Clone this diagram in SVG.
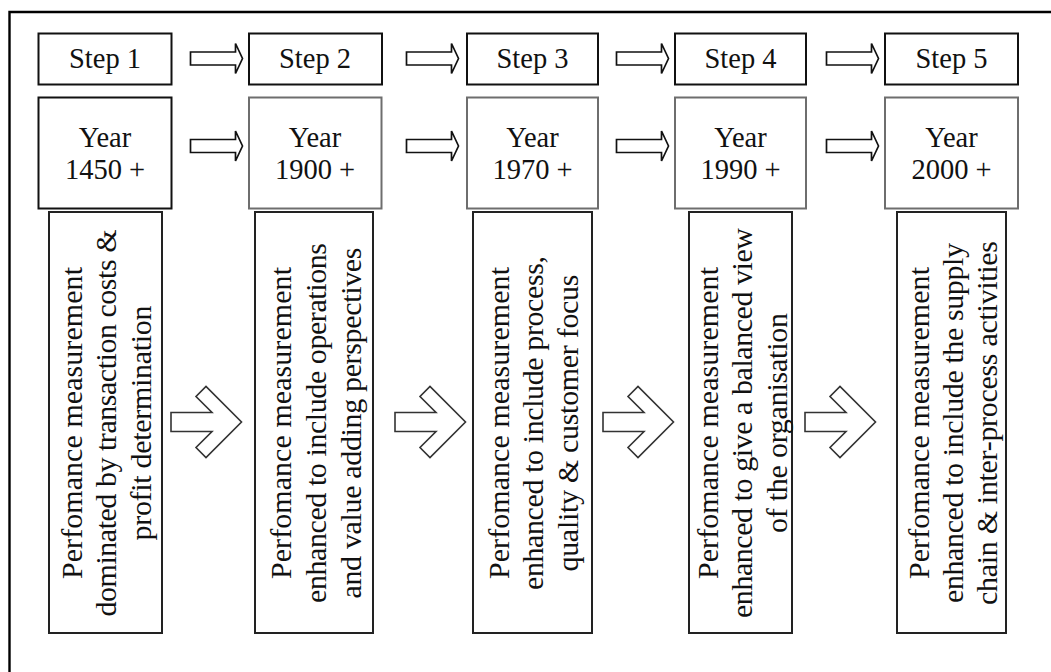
<svg xmlns="http://www.w3.org/2000/svg" xmlns:xlink="http://www.w3.org/1999/xlink" width="1051" height="672" viewBox="0 0 1051 672">
  <style>
    .frame { stroke: #000; stroke-width: 2.4; fill: none; }
    .step { fill: #fff; stroke: #111; stroke-width: 2; }
    .year { fill: #fff; stroke: #111; stroke-width: 2; }
    .year.soft { stroke: #6e6e6e; }
    .stage { fill: #fff; stroke: #222; stroke-width: 2; }
    .lbl { font-family: "Liberation Serif", "Times New Roman", serif; font-size: 28.5px; fill: #111; text-anchor: middle; }
    .vt { font-family: "Liberation Serif", "Times New Roman", serif; font-size: 30px; fill: #111; text-anchor: middle; }
    .small-arrow { fill: #fff; stroke: #111; stroke-width: 1.7; stroke-linejoin: miter; }
    .big-arrow { fill: #fff; stroke: #333; stroke-width: 1.6; stroke-linejoin: miter; }
  </style>
  <defs>
    <!-- hollow double-line style arrow, origin at shaft start on the centre line -->
    <path id="thin-arrow" d="M0,-6.5 H45 V-15 L52,0 L45,15 V6.5 H0 Z"/>
    <!-- block arrow with chevron head, origin at shaft start on the centre line -->
    <path id="chevron-arrow" d="M0,-9.5 H41 L25,-25.5 L35,-35.5 L70.5,0 L35,35.5 L25,25.5 L41,9.5 H0 Z"/>
  </defs>

  <rect width="1051" height="672" fill="#fff"/>

  <!-- outer frame (top and left edges) -->
  <path class="frame" d="M9.5,672 V12 H1051"/>

  <!-- column 1 -->
  <g id="step1">
    <rect class="step" x="38.5" y="33.5" width="133" height="51"/>
    <text class="lbl" x="105" y="67.5">Step 1</text>
  </g>
  <g id="year1">
    <rect class="year" x="38.5" y="97.5" width="133" height="111"/>
    <text class="lbl" x="105" y="146.5">Year</text>
    <text class="lbl" x="105" y="178.5">1450 +</text>
  </g>
  <g id="stage1">
    <rect class="stage" x="49" y="212" width="113" height="421"/>
    <text class="vt" transform="translate(81.5,423) rotate(-90)" textLength="312" lengthAdjust="spacing">Perfomance measurement</text>
    <text class="vt" transform="translate(116,423) rotate(-90)" textLength="387" lengthAdjust="spacing">dominated by transaction costs &amp;</text>
    <text class="vt" transform="translate(150.5,423) rotate(-90)" textLength="235" lengthAdjust="spacing">profit determination</text>
  </g>

  <!-- column 2 -->
  <g id="step2">
    <rect class="step" x="249" y="33.5" width="133" height="51"/>
    <text class="lbl" x="315" y="67.5">Step 2</text>
  </g>
  <g id="year2">
    <rect class="year soft" x="249" y="97.5" width="132.5" height="111"/>
    <text class="lbl" x="315" y="146.5">Year</text>
    <text class="lbl" x="315" y="178.5">1900 +</text>
  </g>
  <g id="stage2">
    <rect class="stage" x="255" y="212" width="118" height="421"/>
    <text class="vt" transform="translate(290.5,423) rotate(-90)" textLength="312" lengthAdjust="spacing">Perfomance measurement</text>
    <text class="vt" transform="translate(326,423) rotate(-90)" textLength="360" lengthAdjust="spacing">enhanced to include operations</text>
    <text class="vt" transform="translate(360.5,423) rotate(-90)" textLength="351" lengthAdjust="spacing">and value adding perspectives</text>
  </g>

  <!-- column 3 -->
  <g id="step3">
    <rect class="step" x="467" y="33.5" width="131" height="51"/>
    <text class="lbl" x="532.5" y="67.5">Step 3</text>
  </g>
  <g id="year3">
    <rect class="year soft" x="467" y="97.5" width="131" height="111"/>
    <text class="lbl" x="532.5" y="146.5">Year</text>
    <text class="lbl" x="532.5" y="178.5">1970 +</text>
  </g>
  <g id="stage3">
    <rect class="stage" x="473" y="212" width="119" height="421"/>
    <text class="vt" transform="translate(508.5,423) rotate(-90)" textLength="312" lengthAdjust="spacing">Perfomance measurement</text>
    <text class="vt" transform="translate(543,423) rotate(-90)" textLength="334" lengthAdjust="spacing">enhanced to include process,</text>
    <text class="vt" transform="translate(577.5,423) rotate(-90)" textLength="297" lengthAdjust="spacing">quality &amp; customer focus</text>
  </g>

  <!-- column 4 -->
  <g id="step4">
    <rect class="step" x="675" y="33.5" width="131" height="51"/>
    <text class="lbl" x="740.5" y="67.5">Step 4</text>
  </g>
  <g id="year4">
    <rect class="year soft" x="675" y="97.5" width="131" height="111"/>
    <text class="lbl" x="740.5" y="146.5">Year</text>
    <text class="lbl" x="740.5" y="178.5">1990 +</text>
  </g>
  <g id="stage4">
    <rect class="stage" x="689" y="212" width="103" height="421"/>
    <text class="vt" transform="translate(717.5,423) rotate(-90)" textLength="312" lengthAdjust="spacing">Perfomance measurement</text>
    <text class="vt" transform="translate(752,423) rotate(-90)" textLength="390" lengthAdjust="spacing">enhanced to give a balanced view</text>
    <text class="vt" transform="translate(787,423) rotate(-90)" textLength="220" lengthAdjust="spacing">of the organisation</text>
  </g>

  <!-- column 5 -->
  <g id="step5">
    <rect class="step" x="885" y="33.5" width="133" height="51"/>
    <text class="lbl" x="951.5" y="67.5">Step 5</text>
  </g>
  <g id="year5">
    <rect class="year soft" x="885" y="97.5" width="133" height="111"/>
    <text class="lbl" x="951.5" y="146.5">Year</text>
    <text class="lbl" x="951.5" y="178.5">2000 +</text>
  </g>
  <g id="stage5">
    <rect class="stage" x="897" y="212" width="109" height="421"/>
    <text class="vt" transform="translate(928.5,423) rotate(-90)" textLength="312" lengthAdjust="spacing">Perfomance measurement</text>
    <text class="vt" transform="translate(963,423) rotate(-90)" textLength="360" lengthAdjust="spacing">enhanced to include the supply</text>
    <text class="vt" transform="translate(997,423) rotate(-90)" textLength="364" lengthAdjust="spacing">chain &amp; inter-process activities</text>
  </g>

  <!-- connectors -->
  <g id="connectors">
    <!-- step row -->
    <use xlink:href="#thin-arrow" class="small-arrow" transform="translate(190.5,58.5)"/>
    <use xlink:href="#thin-arrow" class="small-arrow" transform="translate(406.5,58.5)"/>
    <use xlink:href="#thin-arrow" class="small-arrow" transform="translate(616.5,58.5)"/>
    <use xlink:href="#thin-arrow" class="small-arrow" transform="translate(826.5,58.5)"/>
    <!-- year row -->
    <use xlink:href="#thin-arrow" class="small-arrow" transform="translate(190.5,146)"/>
    <use xlink:href="#thin-arrow" class="small-arrow" transform="translate(406.5,146)"/>
    <use xlink:href="#thin-arrow" class="small-arrow" transform="translate(616.5,146)"/>
    <use xlink:href="#thin-arrow" class="small-arrow" transform="translate(826.5,146)"/>
    <!-- stage row -->
    <use xlink:href="#chevron-arrow" class="big-arrow" transform="translate(171,422)"/>
    <use xlink:href="#chevron-arrow" class="big-arrow" transform="translate(395,422)"/>
    <use xlink:href="#chevron-arrow" class="big-arrow" transform="translate(603,422)"/>
    <use xlink:href="#chevron-arrow" class="big-arrow" transform="translate(805,422)"/>
  </g>
</svg>
